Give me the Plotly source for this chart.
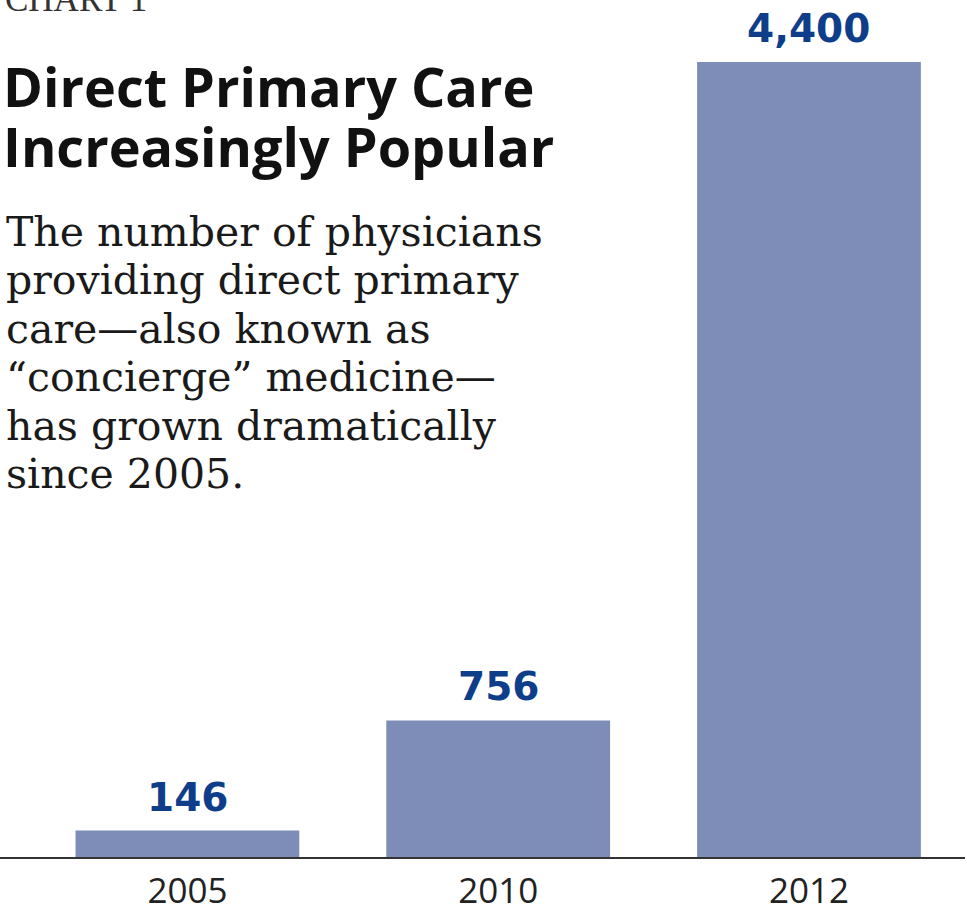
import plotly.graph_objects as go

years = ["2005", "2010", "2012"]
physicians = [146, 756, 4400]
value_labels = ["146", "756", "4,400"]

chart_label = "CHART 1"
title_lines = ["Direct Primary Care", "Increasingly Popular"]
body_lines = [
    "The number of physicians",
    "providing direct primary",
    "care\u2014also known as",
    "\u201cconcierge\u201d medicine\u2014",
    "has grown dramatically",
    "since 2005.",
]

W, H = 967, 912
ML, MR, MT, MB = 0, 2, 0, 55
PH = H - MT - MB


def py(p):
    """pixel row -> paper y"""
    return (PH - p) / PH


fig = go.Figure()
fig.add_trace(go.Bar(
    x=years, y=physicians, width=0.72,
    marker=dict(color="#7d8db8", line=dict(width=0)),
    hoverinfo="skip",
))

ann = []
for i, (v, lab) in enumerate(zip(physicians, value_labels)):
    ann.append(dict(x=i, y=v, xref="x", yref="y", text=lab, showarrow=False,
                    yanchor="bottom", yshift=9,
                    font=dict(family="DejaVu Sans", size=39, color="#0e3d8a", weight="bold")))

ann.append(dict(x=0, y=py(21), xref="paper", yref="paper", text=chart_label, showarrow=False,
                xanchor="left", yanchor="bottom", xshift=3,
                font=dict(family="Liberation Serif", size=35, color="#333333")))

for i, t in enumerate(title_lines):
    ann.append(dict(x=0, y=py(105 - 19 + 59.5 * i), xref="paper", yref="paper", text=t,
                    showarrow=False, xanchor="left", yanchor="middle", xshift=1,
                    font=dict(family="Open Sans", size=54, color="#111111", weight="bold")))

for i, t in enumerate(body_lines):
    ann.append(dict(x=0, y=py(246 - 14 + 48.4 * i), xref="paper", yref="paper", text=t,
                    showarrow=False, xanchor="left", yanchor="middle", xshift=4,
                    font=dict(family="DejaVu Serif", size=41, color="#1a1a1a")))

fig.update_layout(
    width=W, height=H,
    margin=dict(l=ML, r=MR, t=MT, b=MB, pad=0),
    plot_bgcolor="white", paper_bgcolor="white",
    showlegend=False,
    annotations=ann,
    xaxis=dict(type="category", range=[-0.603, 2.502], showgrid=False, zeroline=False,
               showline=True, linecolor="#333333", linewidth=2, ticks="",
               ticklabelstandoff=2, automargin=False,
               tickfont=dict(family="Open Sans", size=35, color="#222222"), fixedrange=True),
    yaxis=dict(range=[0, 4743], showgrid=False, zeroline=False, showline=False,
               showticklabels=False, ticks="", fixedrange=True, automargin=False),
)

fig.write_html("out.html")
